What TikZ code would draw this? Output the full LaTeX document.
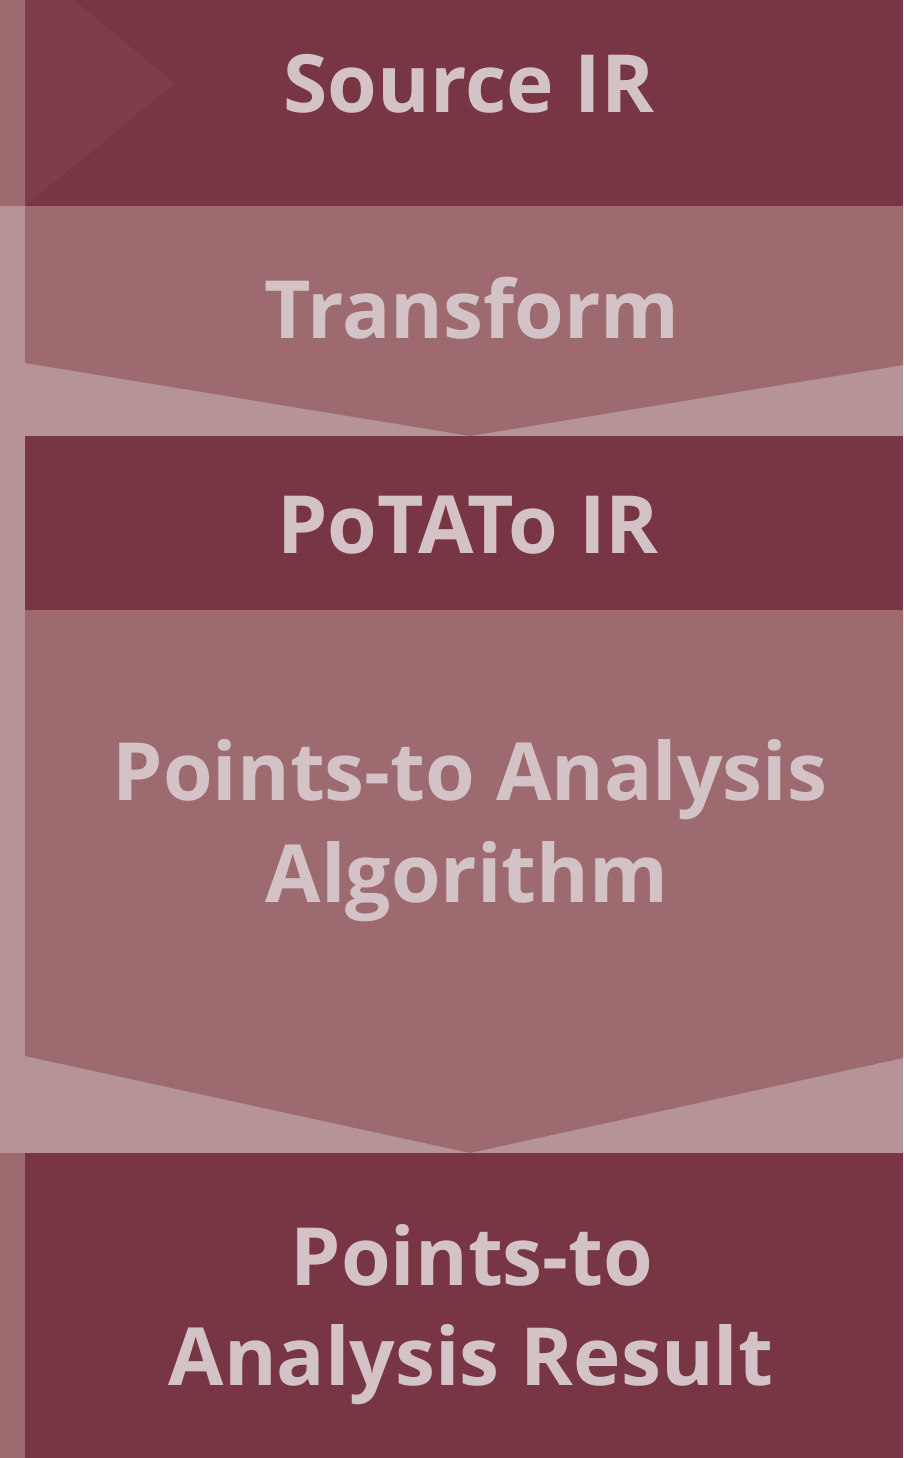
\documentclass[tikz,border=0pt]{standalone}
\usepackage{fontspec}
\setmainfont{Open Sans}
\definecolor{darkred}{HTML}{783543}
\definecolor{midred}{HTML}{9D6A6F}
\definecolor{lightred}{HTML}{B69396}
\definecolor{tipred}{HTML}{7F3D4A}
\definecolor{label}{HTML}{D3C3C6}
\tikzset{
  lbl/.style={anchor=base, text=label, font=\fontsize{80.3}{100}\selectfont\bfseries, inner sep=0pt, align=center},
}
\begin{document}
\begin{tikzpicture}[x=1pt,y=-1pt]
\useasboundingbox (0,0) rectangle (903,1458);
% light backdrop and left rail
\fill[lightred] (0,0) rectangle (903,1458);
\fill[midred] (0,0) rectangle (25,206);
\fill[midred] (0,1153) rectangle (25,1458);
% Source IR block with faint arrow tip
\fill[darkred] (25,0) rectangle (903,206);
\fill[tipred] (25,0) -- (73,0) -- (175,83) -- (25,206) -- cycle;
% Transform chevron
\fill[midred] (25,206) -- (903,206) -- (903,365) -- (470,436) -- (25,363) -- cycle;
% PoTATo IR block
\fill[darkred] (25,436) rectangle (903,610);
% Algorithm chevron
\fill[midred] (25,610) -- (903,610) -- (903,1058) -- (470,1153) -- (25,1056) -- cycle;
% Result block
\fill[darkred] (25,1153) rectangle (903,1458);

\node[lbl] (src) at (469,113) {Source IR};
\node[lbl] (trans) at (472,338) {Transform};
\node[lbl] (potato) at (468,553) {PoTATo IR};
\node[lbl] (algo1) at (470,800) {Points-to Analysis};
\node[lbl] (algo2) at (467,902) {Algorithm};
\node[lbl] (res1) at (472,1285) {Points-to};
\node[lbl] (res2) at (471,1385) {Analysis Result};
\end{tikzpicture}
\end{document}
